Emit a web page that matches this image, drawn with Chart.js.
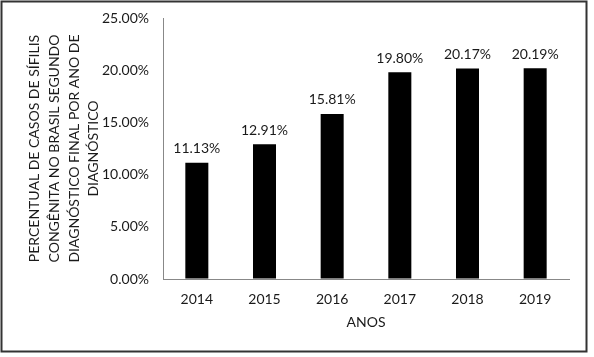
<!DOCTYPE html>
<html>
<head>
<meta charset="utf-8">
<script src="https://cdn.jsdelivr.net/npm/chart.js@4.4.1/dist/chart.umd.min.js"></script>
<style>
html,body{margin:0;padding:0;background:#fff;}
#wrap{width:594px;height:357px;position:relative;}
</style>
</head>
<body>
<div id="wrap"><canvas id="c" width="594" height="357"></canvas></div>
<script>
const years = ['2014','2015','2016','2017','2018','2019'];
const percentValues = [11.13, 12.91, 15.81, 19.80, 20.17, 20.19];
const yTitleLines = ['PERCENTUAL DE CASOS DE SÍFILIS','CONGÊNITA NO BRASIL SEGUNDO','DIAGNÓSTICO FINAL POR ANO DE','DIAGNÓSTICO'];
const xTitle = 'ANOS';

const FONT = 'Lato, "Open Sans", sans-serif';
const TXT = '#1a1a1a';

const frame = {
  id:'frame',
  afterDraw(chart){
    const ctx = chart.ctx;
    ctx.save();
    ctx.strokeStyle = '#333';
    ctx.lineWidth = 2;
    ctx.strokeRect(1.5,1.5,585,350);
    ctx.restore();
  }
};
const labels = {
  id:'labels',
  afterDatasetsDraw(chart){
    const ctx = chart.ctx;
    const meta = chart.getDatasetMeta(0);
    ctx.save();
    ctx.font = '14px ' + FONT;
    ctx.fillStyle = TXT;
    ctx.textAlign = 'center';
    ctx.textBaseline = 'middle';
    meta.data.forEach((el,i)=>{
      ctx.fillText(percentValues[i].toFixed(2)+'%', el.x, el.y-14);
    });
    ctx.restore();
  }
};

new Chart(document.getElementById('c'),{
  type:'bar',
  data:{labels:years,datasets:[{data:percentValues,backgroundColor:'#000',borderWidth:0,categoryPercentage:1,barPercentage:0.34}]},
  plugins:[frame,labels],
  options:{
    responsive:false,animation:false,
    layout:{padding:{left:25,right:25,top:18,bottom:23}},
    plugins:{legend:{display:false},tooltip:{enabled:false}},
    scales:{
      x:{
        grid:{display:true,drawOnChartArea:false,drawTicks:false},
        border:{display:true,color:'#888',width:1},
        ticks:{color:TXT,font:{family:FONT,size:14},padding:12},
        title:{display:true,text:xTitle,color:TXT,font:{family:FONT,size:14},padding:{top:0,bottom:3}},
        afterFit(s){ s.height = 55; s.paddingLeft = 0; s.paddingRight = 0; }
      },
      y:{
        min:0,max:25,
        grid:{display:true,drawOnChartArea:false,drawTicks:false},
        border:{display:true,color:'#888',width:1},
        ticks:{stepSize:5,color:TXT,font:{family:FONT,size:14},padding:14,callback:v=>v.toFixed(2)+'%'},
        title:{display:true,text:yTitleLines,color:TXT,font:{family:FONT,size:14,lineHeight:1.4},padding:{top:0,bottom:6}},
        afterFit(s){ s.width = 138; s.paddingTop = 0; s.paddingBottom = 0; }
      }
    }
  }
});
</script>
</body>
</html>
